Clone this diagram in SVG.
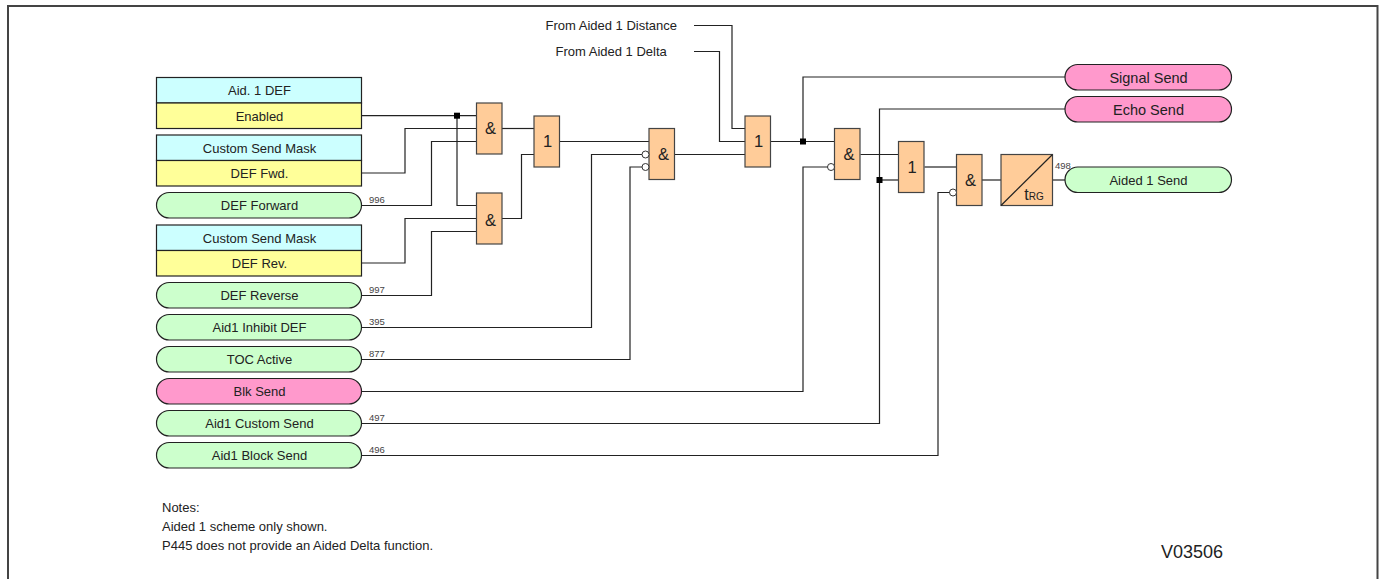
<svg xmlns="http://www.w3.org/2000/svg" width="1384" height="579" viewBox="0 0 1384 579">
<style>
text{font-family:"Liberation Sans",Arial,sans-serif;font-size:13px;fill:#222;text-anchor:middle}
.b{stroke:#222;stroke-width:1.2}
.c{fill:#ccffff}.y{fill:#ffff99}.g{fill:#ccffcc}.p{fill:#ff99cc}.o{fill:#ffcc99;stroke:#444;stroke-width:1.2}
#connectors path{fill:none;stroke:#222;stroke-width:1.2}
.n{font-size:9.5px;text-anchor:start;fill:#444}
.l{text-anchor:start}
.s{font-size:16.500px}
.i{fill:#fff;stroke:#333;stroke-width:1}
.t{font-size:14.500px}
</style>
<rect width="1384" height="579" fill="#fff"/>
<path id="frame" d="M8 579V6H1377.500V579" fill="none" stroke="#444" stroke-width="2"/>
<g id="connectors">
<path d="M361.500 115.700H476.500"/>
<path d="M361.500 173H405V128.500H476.500"/>
<path d="M361.500 205.500H431.500V141.500H476.500"/>
<path d="M457 115.700V205.500H476.500"/>
<path d="M361.500 263H405V218.500H476.500"/>
<path d="M361.500 295.500H431.500V231.500H476.500"/>
<path d="M502 128.500H534"/>
<path d="M502 218.500H521.500V154.500H534"/>
<path d="M560 141.500H649"/>
<path d="M361.500 327.500H591.500V154.500H645"/>
<path d="M361.500 359.500H630V167H645"/>
<path d="M675 154.500H745"/>
<path d="M694 25.500H732V128.500H745"/>
<path d="M694 51.500H719.500V141.500H745"/>
<path d="M771 141.500H834.500"/>
<path d="M803 141.500V77H1065"/>
<path d="M361.500 391.500H803V167H830"/>
<path d="M860.500 154.500H898.500"/>
<path d="M361.500 423.500H879.500V109H1065"/>
<path d="M879.500 180H898.500"/>
<path d="M924.500 167H956"/>
<path d="M361.500 455.500H938V192.500H952"/>
<path d="M982 180H1001"/>
<path d="M1052.500 180H1065"/>
</g>
<rect x="454" y="112.700" width="6" height="6" fill="#000"/>
<rect x="800" y="138.500" width="6" height="6" fill="#000"/>
<rect x="876.500" y="177" width="6" height="6" fill="#000"/>
<g id="n-aid1def"><rect class="b c" x="156.500" y="77.500" width="205" height="25.500"/><text x="259.500" y="95">Aid. 1 DEF</text></g>
<g id="n-enabled"><rect class="b y" x="156.500" y="103" width="205" height="25.500"/><text x="259.500" y="120.500">Enabled</text></g>
<g id="n-mask1"><rect class="b c" x="156.500" y="135" width="205" height="25.500"/><text x="259.500" y="152.700">Custom Send Mask</text></g>
<g id="n-fwd"><rect class="b y" x="156.500" y="160.500" width="205" height="25.500"/><text x="259.500" y="178">DEF Fwd.</text></g>
<g id="n-forward"><rect class="b g" x="156.500" y="192.500" width="205" height="25.500" rx="12.750"/><text x="259.500" y="210">DEF Forward</text><text class="n" x="369" y="203">996</text></g>
<g id="n-mask2"><rect class="b c" x="156.500" y="225" width="205" height="25.500"/><text x="259.500" y="242.700">Custom Send Mask</text></g>
<g id="n-rev"><rect class="b y" x="156.500" y="250.500" width="205" height="25.500"/><text x="259.500" y="268">DEF Rev.</text></g>
<g id="n-reverse"><rect class="b g" x="156.500" y="282.500" width="205" height="25.500" rx="12.750"/><text x="259.500" y="300">DEF Reverse</text><text class="n" x="369" y="293">997</text></g>
<g id="n-inhibit"><rect class="b g" x="156.500" y="314.500" width="205" height="25.500" rx="12.750"/><text x="259.500" y="332">Aid1 Inhibit DEF</text><text class="n" x="369" y="325">395</text></g>
<g id="n-toc"><rect class="b g" x="156.500" y="346.500" width="205" height="25.500" rx="12.750"/><text x="259.500" y="364">TOC Active</text><text class="n" x="369" y="357">877</text></g>
<g id="n-blk"><rect class="b p" x="156.500" y="378.500" width="205" height="25.500" rx="12.750"/><text x="259.500" y="396">Blk Send</text></g>
<g id="n-custom"><rect class="b g" x="156.500" y="410.500" width="205" height="25.500" rx="12.750"/><text x="259.500" y="428">Aid1 Custom Send</text><text class="n" x="369" y="421">497</text></g>
<g id="n-block"><rect class="b g" x="156.500" y="442.500" width="205" height="25.500" rx="12.750"/><text x="259.500" y="460">Aid1 Block Send</text><text class="n" x="369" y="453">496</text></g>
<g id="g-and1"><rect class="o" x="476.500" y="103" width="25.500" height="51"/><text class="s" x="490.500" y="134">&amp;</text></g>
<g id="g-and2"><rect class="o" x="476.500" y="193" width="25.500" height="51"/><text class="s" x="490.500" y="226">&amp;</text></g>
<g id="g-or1"><rect class="o" x="534" y="116" width="25.500" height="51"/><text class="s" x="547.500" y="147">1</text></g>
<g id="g-and3"><rect class="o" x="649" y="128.500" width="25.500" height="51"/><text class="s" x="663.500" y="160">&amp;</text><circle class="i" cx="645.500" cy="154.500" r="3.500"/><circle class="i" cx="645.500" cy="167" r="3.500"/></g>
<g id="g-or2"><rect class="o" x="745" y="116" width="25.500" height="51"/><text class="s" x="758.500" y="147">1</text></g>
<g id="g-and4"><rect class="o" x="834.500" y="128.500" width="25.500" height="51"/><text class="s" x="849" y="160">&amp;</text><circle class="i" cx="831" cy="167" r="3.500"/></g>
<g id="g-or3"><rect class="o" x="898.500" y="141.500" width="25.500" height="51"/><text class="s" x="912" y="173">1</text></g>
<g id="g-and5"><rect class="o" x="956.500" y="154.500" width="25.500" height="51"/><text class="s" x="970.500" y="186">&amp;</text><circle class="i" cx="953" cy="192.500" r="3.500"/></g>
<g id="g-timer"><rect class="o" x="1001" y="154.500" width="51.500" height="51"/><path d="M1001 205.500L1052.500 154.500" stroke="#222" stroke-width="1.200" fill="none"/><text x="1034" y="199.500" style="font-size:16px">t<tspan style="font-size:10px">RG</tspan></text><text class="n" x="1055" y="169">498</text></g>
<g id="n-signal"><rect class="b p" x="1065" y="64.500" width="166.500" height="25.500" rx="12.750"/><text class="t" x="1148.500" y="82.500">Signal Send</text></g>
<g id="n-echo"><rect class="b p" x="1065" y="96.500" width="166.500" height="25.500" rx="12.750"/><text class="t" x="1148.500" y="114.500">Echo Send</text></g>
<g id="n-aided"><rect class="b g" x="1065" y="167" width="166.500" height="25.500" rx="12.750"/><text x="1148.500" y="184.500">Aided 1 Send</text></g>
<text class="l" x="545.500" y="30">From Aided 1 Distance</text>
<text class="l" x="555.500" y="56">From Aided 1 Delta</text>
<text class="l" x="162" y="512">Notes:</text>
<text class="l" x="162" y="531">Aided 1 scheme only shown.</text>
<text class="l" x="162" y="550">P445 does not provide an Aided Delta function.</text>
<text class="l" x="1161" y="558" style="font-size:18px">V03506</text>
</svg>
